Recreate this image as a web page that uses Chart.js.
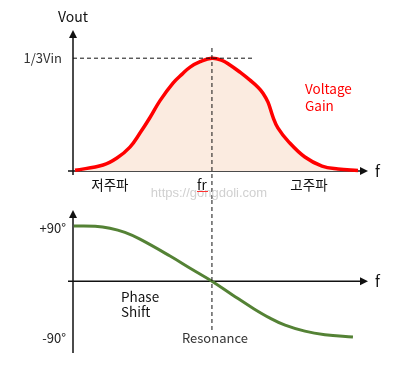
<!DOCTYPE html>
<html>
<head>
<meta charset="utf-8">
<script src="https://cdn.jsdelivr.net/npm/chart.js@4.4.1/dist/chart.umd.min.js"></script>
<style>
  body { margin: 0; background: #fff; }
  #wrap { position: relative; width: 418px; height: 374px; }
  canvas { position: absolute; left: 0; }
</style>
</head>
<body>
<div id="wrap">
  <canvas id="gainChart" width="418" height="200" style="top:0"></canvas>
  <canvas id="phaseChart" width="418" height="174" style="top:200px"></canvas>
</div>
<script>
// frequency in arbitrary units (0 = axis origin, 100 = arrow tip)
const gainFreq = [0.7, 10.2, 14.9, 19.3, 22.7, 26.1, 29.5, 33.9, 37.0, 39.7, 43.1, 47.1, 50.5, 53.2, 56.6, 60.0, 62.7, 64.4, 66.1, 67.8, 69.5, 72.9, 78.6, 84.4, 89.8, 96.6];
// output voltage as a fraction of Vin/3
const gainValues = [0.006, 0.053, 0.115, 0.212, 0.336, 0.474, 0.624, 0.779, 0.859, 0.921, 0.969, 1.0, 0.981, 0.94, 0.876, 0.805, 0.743, 0.69, 0.61, 0.478, 0.38, 0.265, 0.124, 0.044, 0.018, 0.004];

const phaseFreq = [0.3, 7.5, 12.5, 17.6, 22.7, 32.9, 40.0, 47.1, 54.2, 61.0, 66.8, 71.9, 78.6, 85.4, 94.9];
// phase shift in degrees
const phaseValues = [90, 89.5, 86.3, 79.5, 68.5, 41, 20.3, 0, -22.8, -44, -60.2, -71.6, -81.4, -87.1, -91];

const resonanceFreq = 47.1;
const gainTickValue = 1;
const gainTickLabel = "1/3Vin";
const phaseTickValues = [90, -90];
const phaseTickLabels = ["+90°", "-90°"];
const bandLabels = ["저주파", "fr", "고주파"];
const bandFreqs = [12.5, 43.7, 80];

const FONT = '"Noto Sans CJK KR", "Noto Sans", sans-serif';

function arrowUp(ctx, x, y) {
  ctx.beginPath();
  ctx.moveTo(x, y);
  ctx.lineTo(x - 4, y + 8);
  ctx.lineTo(x + 4, y + 8);
  ctx.closePath();
  ctx.fill();
}

function arrowRight(ctx, x, y) {
  ctx.beginPath();
  ctx.moveTo(x, y);
  ctx.lineTo(x - 8, y - 4);
  ctx.lineTo(x - 8, y + 4);
  ctx.closePath();
  ctx.fill();
}

function text(ctx, str, x, y, align, color, size, family) {
  ctx.font = (size || 13) + "px " + (family || FONT);
  ctx.fillStyle = color || "#111";
  ctx.textAlign = align || "left";
  ctx.textBaseline = "middle";
  ctx.fillText(str, x, y);
}

function axesPlugin(opts) {
  return {
    id: "axes_" + opts.name,
    beforeDatasetsDraw(chart) {
      const ctx = chart.ctx;
      const xs = chart.scales.x;
      const ys = chart.scales.y;
      const x0 = xs.getPixelForValue(0);
      const xEnd = xs.getPixelForValue(100);
      const y0 = ys.getPixelForValue(0);
      const yTop = chart.chartArea.top;
      ctx.save();
      ctx.strokeStyle = "#111";
      ctx.fillStyle = "#111";
      ctx.lineWidth = 1.5;
      ctx.beginPath();
      ctx.moveTo(x0, opts.yAxisBottom);
      ctx.lineTo(x0, yTop + 6);
      ctx.moveTo(x0 - 5, y0);
      ctx.lineTo(xEnd - 6, y0);
      ctx.stroke();
      arrowUp(ctx, x0, yTop);
      arrowRight(ctx, xEnd, y0);
      ctx.restore();
    },
    afterDraw(chart) {
      const ctx = chart.ctx;
      const xs = chart.scales.x;
      const ys = chart.scales.y;
      const xr = xs.getPixelForValue(resonanceFreq);
      ctx.save();
      ctx.strokeStyle = "#111";
      ctx.lineWidth = 1;
      ctx.setLineDash([4, 3]);
      ctx.beginPath();
      ctx.moveTo(xr, opts.dashTop);
      ctx.lineTo(xr, opts.dashBottom);
      ctx.stroke();
      ctx.setLineDash([]);
      text(ctx, "f", xs.getPixelForValue(100) + 7, ys.getPixelForValue(0), "left", "#111", 15);
      opts.labels(ctx, xs, ys);
      ctx.restore();
    }
  };
}

new Chart(document.getElementById("gainChart"), {
  type: "line",
  data: {
    datasets: [{
      data: gainFreq.map((f, i) => ({ x: f, y: gainValues[i] })),
      borderColor: "#ff0000",
      borderWidth: 3.5,
      backgroundColor: "#fbebe0",
      fill: "origin",
      pointRadius: 0,
      tension: 0.4,
      clip: false
    }]
  },
  options: {
    responsive: false,
    animation: false,
    layout: { autoPadding: false, padding: { left: 73, right: 50, top: 30, bottom: 29 } },
    plugins: { legend: { display: false }, tooltip: { enabled: false } },
    scales: {
      x: { type: "linear", min: 0, max: 100, display: false },
      y: { type: "linear", min: 0, max: 1.25, display: false }
    }
  },
  plugins: [axesPlugin({
    name: "gain",
    yAxisBottom: 175,
    dashTop: 48,
    dashBottom: 200,
    labels(ctx, xs, ys) {
      const yv = ys.getPixelForValue(gainTickValue);
      ctx.strokeStyle = "#111";
      ctx.lineWidth = 1;
      ctx.setLineDash([4, 3]);
      ctx.beginPath();
      ctx.moveTo(xs.getPixelForValue(0), yv);
      ctx.lineTo(252, yv);
      ctx.stroke();
      ctx.setLineDash([]);
      text(ctx, "Vout", xs.getPixelForValue(0), 17, "center", "#111", 14);
      text(ctx, gainTickLabel, 62, yv, "right", "#333", 13);
      text(ctx, "Voltage", 305, 89, "left", "#ff0000", 13.5);
      text(ctx, "Gain", 305, 106, "left", "#ff0000", 13.5);
      const yb = ys.getPixelForValue(0) + 14;
      bandLabels.forEach((lab, i) => {
        text(ctx, lab, xs.getPixelForValue(bandFreqs[i]), yb, "center", "#111", 13.5);
      });
      text(ctx, "https://gongdoli.com", 209, 193, "center", "#d0d0d0", 13, '"Liberation Sans", Arial, sans-serif');
      // spell-check squiggle under "fr"
      ctx.strokeStyle = "#ff3030";
      ctx.lineWidth = 1;
      ctx.beginPath();
      for (let x = 197; x <= 208; x += 1) {
        const y = 191 + ((x % 2) ? 1 : 0);
        if (x === 197) ctx.moveTo(x, y); else ctx.lineTo(x, y);
      }
      ctx.stroke();
    }
  })]
});

new Chart(document.getElementById("phaseChart"), {
  type: "line",
  data: {
    datasets: [{
      data: phaseFreq.map((f, i) => ({ x: f, y: phaseValues[i] })),
      borderColor: "#548235",
      borderWidth: 3,
      fill: false,
      pointRadius: 0,
      tension: 0.4,
      clip: false
    }]
  },
  options: {
    responsive: false,
    animation: false,
    layout: { autoPadding: false, padding: { left: 73, right: 50, top: 10, bottom: 21 } },
    plugins: { legend: { display: false }, tooltip: { enabled: false } },
    scales: {
      x: { type: "linear", min: 0, max: 100, display: false },
      y: { type: "linear", min: -117, max: 116, display: false }
    }
  },
  plugins: [axesPlugin({
    name: "phase",
    yAxisBottom: 153,
    dashTop: 0,
    dashBottom: 133,
    labels(ctx, xs, ys) {
      phaseTickValues.forEach((v, i) => {
        text(ctx, phaseTickLabels[i], 66, ys.getPixelForValue(v) + 2, "right", "#222", 13);
      });
      text(ctx, "Phase", 121, 97, "left", "#111", 13.5);
      text(ctx, "Shift", 121, 112, "left", "#111", 13.5);
      text(ctx, "Resonance", xs.getPixelForValue(resonanceFreq) + 3, 138, "center", "#333", 13);
    }
  })]
});
</script>
</body>
</html>
